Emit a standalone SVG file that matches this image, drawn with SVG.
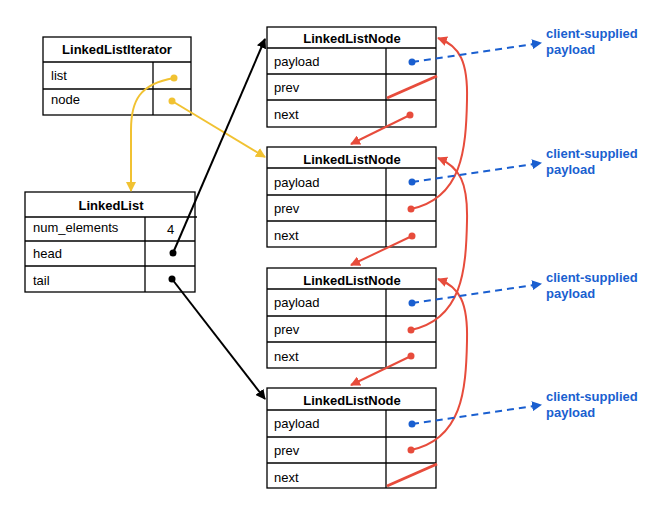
<svg xmlns="http://www.w3.org/2000/svg" width="668" height="505" viewBox="0 0 668 505">
<style>
.box{fill:#fff;stroke:#000;stroke-width:1.3}
.ln{stroke:#000;stroke-width:1.3;fill:none}
.t{font-family:"Liberation Sans",Arial,sans-serif;font-size:13px;fill:#000}
.h{font-family:"Liberation Sans",Arial,sans-serif;font-size:13px;font-weight:bold;fill:#000;text-anchor:middle}
.lbl{font-family:"Liberation Sans",Arial,sans-serif;font-size:13px;font-weight:bold;fill:#1a5fd0}
.blk{stroke:#000;stroke-width:2;fill:none}
.yel{stroke:#f1c232;stroke-width:2;fill:none}
.red{stroke:#e74c3c;stroke-width:2;fill:none}
.blu{stroke:#1a5fd0;stroke-width:2;fill:none;stroke-dasharray:7,5}
.null{stroke:#e74c3c;stroke-width:3}
</style>
<defs>
<marker id="ab" viewBox="0 0 10 10" refX="9" refY="5" markerWidth="5" markerHeight="5" orient="auto"><path d="M0,0 L10,5 L0,10 z" fill="#000"/></marker>
<marker id="ay" viewBox="0 0 10 10" refX="9" refY="5" markerWidth="5" markerHeight="5" orient="auto"><path d="M0,0 L10,5 L0,10 z" fill="#f1c232"/></marker>
<marker id="ar" viewBox="0 0 10 10" refX="9" refY="5" markerWidth="5" markerHeight="5" orient="auto"><path d="M0,0 L10,5 L0,10 z" fill="#e74c3c"/></marker>
<marker id="au" viewBox="0 0 10 10" refX="9" refY="5" markerWidth="5" markerHeight="5" orient="auto"><path d="M0,0 L10,5 L0,10 z" fill="#1a5fd0"/></marker>
</defs>

<g id="iterator">
<rect class="box" x="43" y="37" width="148" height="78"/>
<line class="ln" x1="43" y1="62" x2="191" y2="62"/>
<line class="ln" x1="43" y1="89" x2="191" y2="89"/>
<line class="ln" x1="153" y1="62" x2="153" y2="115"/>
<text class="h" x="117" y="54">LinkedListIterator</text>
<text class="t" x="51" y="80">list</text>
<text class="t" x="51" y="104">node</text>
</g>

<g id="linkedlist">
<rect class="box" x="25" y="192" width="170" height="100"/>
<line class="ln" x1="25" y1="217" x2="197" y2="217"/>
<line class="ln" x1="25" y1="241" x2="195" y2="241"/>
<line class="ln" x1="25" y1="266" x2="195" y2="266"/>
<line class="ln" x1="145" y1="217" x2="145" y2="292"/>
<text class="h" x="111" y="210">LinkedList</text>
<text class="t" x="33" y="232">num_elements</text>
<text class="t" x="167" y="234">4</text>
<text class="t" x="33" y="258">head</text>
<text class="t" x="33" y="285">tail</text>
</g>

<g id="node1">
<rect class="box" x="267" y="27" width="169" height="100"/>
<line class="ln" x1="267" y1="48" x2="436" y2="48"/>
<line class="ln" x1="267" y1="74" x2="436" y2="74"/>
<line class="ln" x1="267" y1="100" x2="436" y2="100"/>
<line class="ln" x1="386" y1="48" x2="386" y2="127"/>
<text class="h" x="352" y="43">LinkedListNode</text>
<text class="t" x="274" y="66">payload</text>
<text class="t" x="274" y="92">prev</text>
<text class="t" x="274" y="119">next</text>
<line class="null" x1="387" y1="98" x2="437" y2="76"/>
</g>

<g id="node2">
<rect class="box" x="267" y="147" width="169" height="100"/>
<line class="ln" x1="267" y1="168" x2="436" y2="168"/>
<line class="ln" x1="267" y1="195" x2="436" y2="195"/>
<line class="ln" x1="267" y1="221" x2="436" y2="221"/>
<line class="ln" x1="386" y1="168" x2="386" y2="247"/>
<text class="h" x="352" y="164">LinkedListNode</text>
<text class="t" x="274" y="187">payload</text>
<text class="t" x="274" y="213">prev</text>
<text class="t" x="274" y="240">next</text>
</g>

<g id="node3">
<rect class="box" x="267" y="268" width="169" height="100"/>
<line class="ln" x1="267" y1="289" x2="436" y2="289"/>
<line class="ln" x1="267" y1="316" x2="436" y2="316"/>
<line class="ln" x1="267" y1="342" x2="436" y2="342"/>
<line class="ln" x1="386" y1="289" x2="386" y2="368"/>
<text class="h" x="352" y="285">LinkedListNode</text>
<text class="t" x="274" y="307">payload</text>
<text class="t" x="274" y="334">prev</text>
<text class="t" x="274" y="361">next</text>
</g>

<g id="node4">
<rect class="box" x="267" y="388" width="169" height="100"/>
<line class="ln" x1="267" y1="410" x2="436" y2="410"/>
<line class="ln" x1="267" y1="437" x2="436" y2="437"/>
<line class="ln" x1="267" y1="463" x2="436" y2="463"/>
<line class="ln" x1="386" y1="410" x2="386" y2="488"/>
<text class="h" x="352" y="405">LinkedListNode</text>
<text class="t" x="274" y="428">payload</text>
<text class="t" x="274" y="455">prev</text>
<text class="t" x="274" y="482">next</text>
<line class="null" x1="387" y1="486" x2="437" y2="464"/>
</g>

<g id="payload-labels">
<text class="lbl" x="546" y="38">client-supplied</text>
<text class="lbl" x="546" y="54">payload</text>
<text class="lbl" x="546" y="158">client-supplied</text>
<text class="lbl" x="546" y="174">payload</text>
<text class="lbl" x="546" y="282">client-supplied</text>
<text class="lbl" x="546" y="298">payload</text>
<text class="lbl" x="546" y="401">client-supplied</text>
<text class="lbl" x="546" y="417">payload</text>
</g>

<g id="connectors">
<!-- iterator -->
<circle cx="174" cy="78" r="3.5" fill="#f1c232"/>
<path class="yel" d="M174,78 C140,84 131,100 131,130 L131,191" marker-end="url(#ay)"/>
<circle cx="172" cy="101" r="3.5" fill="#f1c232"/>
<path class="yel" d="M172,101 L265,157" marker-end="url(#ay)"/>
<!-- head / tail -->
<circle cx="173" cy="253" r="3.5" fill="#000"/>
<path class="blk" d="M173,253 L265,39" marker-end="url(#ab)"/>
<circle cx="172" cy="279" r="3.5" fill="#000"/>
<path class="blk" d="M172,279 L265,399" marker-end="url(#ab)"/>
<!-- next pointers -->
<circle cx="410" cy="115" r="3.5" fill="#e74c3c"/>
<path class="red" d="M410,115 L351,144" marker-end="url(#ar)"/>
<circle cx="412" cy="236" r="3.5" fill="#e74c3c"/>
<path class="red" d="M412,236 L351,265" marker-end="url(#ar)"/>
<circle cx="411" cy="356" r="3.5" fill="#e74c3c"/>
<path class="red" d="M411,356 L351,385" marker-end="url(#ar)"/>
<!-- prev pointers -->
<circle cx="411" cy="209" r="3.5" fill="#e74c3c"/>
<path class="red" d="M411,209 C462,198 466,150 467,100 C468,62 460,46 438,38" marker-end="url(#ar)"/>
<circle cx="411" cy="330" r="3.5" fill="#e74c3c"/>
<path class="red" d="M411,330 C462,319 466,271 467,221 C468,183 460,167 438,158" marker-end="url(#ar)"/>
<circle cx="411" cy="450" r="3.5" fill="#e74c3c"/>
<path class="red" d="M411,450 C462,439 466,391 467,341 C468,303 460,287 438,279" marker-end="url(#ar)"/>
<!-- payload pointers -->
<circle cx="412" cy="62" r="3.5" fill="#1a5fd0"/>
<path class="blu" d="M412,62 L541,43" marker-end="url(#au)"/>
<circle cx="412" cy="182" r="3.5" fill="#1a5fd0"/>
<path class="blu" d="M412,182 L541,163" marker-end="url(#au)"/>
<circle cx="412" cy="303" r="3.5" fill="#1a5fd0"/>
<path class="blu" d="M412,303 L541,284" marker-end="url(#au)"/>
<circle cx="412" cy="424" r="3.5" fill="#1a5fd0"/>
<path class="blu" d="M412,424 L541,405" marker-end="url(#au)"/>
</g>
</svg>
